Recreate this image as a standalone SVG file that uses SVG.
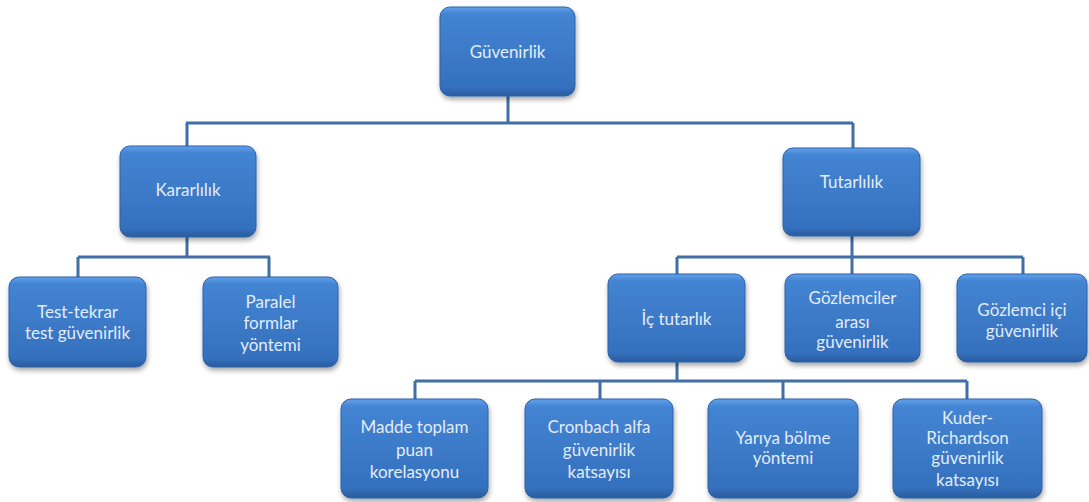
<svg xmlns="http://www.w3.org/2000/svg" width="1089" height="502" viewBox="0 0 1089 502">
<defs>
<linearGradient id="g" x1="0" y1="0" x2="0" y2="1">
<stop offset="0" stop-color="#62a0ea"/>
<stop offset="0.08" stop-color="#4384d3"/>
<stop offset="0.5" stop-color="#3c7ac8"/>
<stop offset="0.9" stop-color="#3470bd"/>
<stop offset="1" stop-color="#2a5c9e"/>
</linearGradient>
<filter id="sh" x="-10%" y="-10%" width="125%" height="130%">
<feDropShadow dx="1" dy="3" stdDeviation="2.5" flood-color="#000" flood-opacity="0.35"/>
</filter>
</defs>
<style>
.box{fill:url(#g);stroke:#2f62a4;stroke-width:1;filter:url(#sh)}
.t{font-family:Lato,"Open Sans",sans-serif;font-size:17px;fill:#e2ecf8;text-anchor:middle}
.c{fill:none;stroke:#3f6fa3;stroke-width:3}
</style>
<rect width="1089" height="502" fill="#ffffff"/>
<g id="connectors">
<path class="c" d="M508 96V123M186 123H853M187 123V146M853 123V148"/>
<path class="c" d="M187 237V257M78 257H270M78 257V277M269 257V277"/>
<path class="c" d="M852 236V257M677 257H1023M677 257V274M852 257V274M1023 257V274"/>
<path class="c" d="M677 362V381M415 381H967M415 381V399M600 381V399M783 381V399M967 381V399"/>
</g>
<g id="n-guvenirlik"><rect class="box" x="440" y="7" width="135" height="89" rx="10"/><text class="t" x="507.5" y="58">Güvenirlik</text></g>
<g id="n-kararlilik"><rect class="box" x="120" y="146" width="136" height="91" rx="10"/><text class="t" x="188" y="196">Kararlılık</text></g>
<g id="n-tutarlilik"><rect class="box" x="783" y="148" width="137" height="88" rx="10"/><text class="t" x="851.5" y="188">Tutarlılık</text></g>
<g id="n-test"><rect class="box" x="9" y="277" width="137" height="90" rx="10"/><text class="t" x="77.5" y="318">Test-tekrar</text><text class="t" x="77.5" y="339">test güvenirlik</text></g>
<g id="n-paralel"><rect class="box" x="203" y="277" width="135" height="90" rx="10"/><text class="t" x="270.5" y="308">Paralel</text><text class="t" x="270.5" y="329">formlar</text><text class="t" x="270.5" y="351">yöntemi</text></g>
<g id="n-ic"><rect class="box" x="608" y="274" width="137" height="88" rx="10"/><text class="t" x="676.5" y="325">İç tutarlık</text></g>
<g id="n-gozlemciler"><rect class="box" x="785" y="274" width="135" height="88" rx="10"/><text class="t" x="852.5" y="304">Gözlemciler</text><text class="t" x="852.5" y="328">arası</text><text class="t" x="852.5" y="348">güvenirlik</text></g>
<g id="n-gozlemci-ici"><rect class="box" x="957" y="274" width="130" height="88" rx="10"/><text class="t" x="1022" y="316">Gözlemci  içi</text><text class="t" x="1022" y="337">güvenirlik</text></g>
<g id="n-madde"><rect class="box" x="341" y="399" width="147" height="99" rx="10"/><text class="t" x="414.5" y="433">Madde  toplam</text><text class="t" x="414.5" y="456">puan</text><text class="t" x="414.5" y="478">korelasyonu</text></g>
<g id="n-cronbach"><rect class="box" x="525" y="399" width="148" height="99" rx="10"/><text class="t" x="599" y="433">Cronbach  alfa</text><text class="t" x="599" y="456">güvenirlik</text><text class="t" x="599" y="478">katsayısı</text></g>
<g id="n-yariya"><rect class="box" x="708" y="399" width="150" height="99" rx="10"/><text class="t" x="783" y="444">Yarıya bölme</text><text class="t" x="783" y="464">yöntemi</text></g>
<g id="n-kuder"><rect class="box" x="893" y="399" width="149" height="99" rx="10"/><text class="t" x="967.5" y="424">Kuder-</text><text class="t" x="967.5" y="444">Richardson</text><text class="t" x="967.5" y="464">güvenirlik</text><text class="t" x="967.5" y="486">katsayısı</text></g>
</svg>
